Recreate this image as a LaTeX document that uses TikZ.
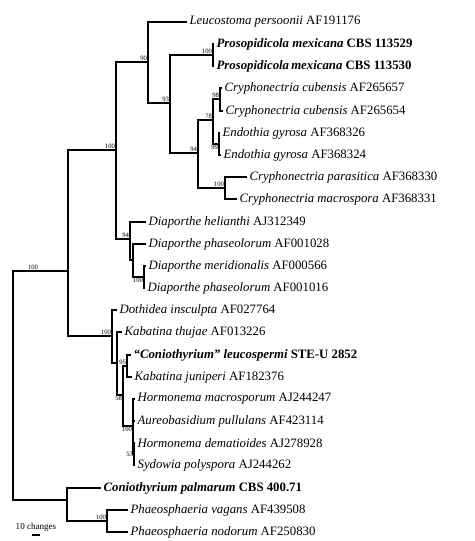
\documentclass[tikz,border=0pt]{standalone}
\usepackage{fontspec}
\setmainfont{Liberation Serif}
\tikzset{branch/.style={line width=1.1pt, line cap=rect}}
\tikzset{taxon/.style={anchor=west, inner xsep=2.5pt, inner ysep=0pt, font=\fontsize{9.6}{11}\selectfont}}
\tikzset{boot/.style={anchor=south east, inner sep=0.6pt, font=\fontsize{5}{6}\selectfont}}
\tikzset{bootlow/.style={boot, anchor=north east}}

\begin{document}
\begin{tikzpicture}[x=0.75pt, y=-0.75pt]
\useasboundingbox (0,0) rectangle (474,541);
% internal nodes
\coordinate (root) at (13,388);
\coordinate (nA) at (68,271);
\coordinate (nB) at (116,150);
\coordinate (nC) at (148,62);
\coordinate (nD) at (170,103);
\coordinate (nE) at (213,55);
\coordinate (nF) at (198,153);
\coordinate (nG) at (213,120);
\coordinate (nH) at (220,99);
\coordinate (nI) at (219,144);
\coordinate (nJ) at (225,188);
\coordinate (nK) at (130,239);
\coordinate (nL) at (133,260);
\coordinate (nM) at (144,277);
\coordinate (nN) at (112,336);
\coordinate (nO) at (117,363);
\coordinate (nP) at (123,395);
\coordinate (nQ) at (127,366);
\coordinate (nR) at (133,426);
\coordinate (nS) at (134,454);
\coordinate (nT) at (67,500);
\coordinate (nU) at (107,521);
% taxa
\node[taxon] (lpers) at (186,22) {\textit{Leucostoma persoonii} AF191176};
\node[taxon] (pmexA) at (213,44) {\textbf{\textit{Prosopidicola mexicana} CBS 113529}};
\node[taxon] (pmexB) at (213,66) {\textbf{\textit{Prosopidicola\,mexicana} CBS 113530}};
\node[taxon] (ccubA) at (221,88) {\textit{Cryphonectria cubensis} AF265657};
\node[taxon] (ccubB) at (222,111) {\textit{Cryphonectria cubensis} AF265654};
\node[taxon] (egyrA) at (219,133) {\textit{Endothia gyrosa} AF368326};
\node[taxon] (egyrB) at (220,155) {\textit{Endothia gyrosa} AF368324};
\node[taxon] (cpara) at (246,177) {\textit{Cryphonectria parasitica} AF368330};
\node[taxon] (cmacr) at (236,199) {\textit{Cryphonectria macrospora} AF368331};
\node[taxon] (dheli) at (145,222) {\textit{Diaporthe helianthi} AJ312349};
\node[taxon] (dphaA) at (145,244) {\textit{Diaporthe phaseolorum} AF001028};
\node[taxon] (dmeri) at (145,266) {\textit{Diaporthe meridionalis} AF000566};
\node[taxon] (dphaB) at (144,288) {\textit{Diaporthe phaseolorum} AF001016};
\node[taxon] (dinsc) at (116,310) {\textit{Dothidea insculpta} AF027764};
\node[taxon] (kthuj) at (121,332) {\textit{Kabatina thujae} AF013226};
\node[taxon] (cleuc) at (130,355) {\textbf{\textit{“Coniothyrium” leucospermi} STE-U 2852}};
\node[taxon] (kjuni) at (131,377) {\textit{Kabatina juniperi} AF182376};
\node[taxon] (hmacr) at (134,399) {\textit{Hormonema macrosporum} AJ244247};
\node[taxon] (apull) at (134,421) {\textit{Aureobasidium pullulans} AF423114};
\node[taxon] (hdema) at (134,443) {\textit{Hormonema dematioides} AJ278928};
\node[taxon] (spoly) at (134,465) {\textit{Sydowia polyspora} AJ244262};
\node[taxon] (cpalm) at (100,488) {\textbf{\textit{Coniothyrium palmarum} CBS 400.71}};
\node[taxon] (pvaga) at (127,510) {\textit{Phaeosphaeria vagans} AF439508};
\node[taxon] (pnodo) at (127,532) {\textit{Phaeosphaeria nodorum} AF250830};
% branches
\draw[branch] (root) |- (nA);
\draw[branch] (root) |- (nT);
\draw[branch] (nA) |- (nB);
\draw[branch] (nA) |- (nN);
\draw[branch] (nB) |- (nC);
\draw[branch] (nB) |- (nK);
\draw[branch] (nC) |- (lpers.west);
\draw[branch] (nC) |- (nD);
\draw[branch] (nD) |- (nE);
\draw[branch] (nD) |- (nF);
\draw[branch] (nE) |- (pmexA.west);
\draw[branch] (nE) |- (pmexB.west);
\draw[branch] (nF) |- (nG);
\draw[branch] (nF) |- (nJ);
\draw[branch] (nG) |- (nH);
\draw[branch] (nG) |- (nI);
\draw[branch] (nH) |- (ccubA.west);
\draw[branch] (nH) |- (ccubB.west);
\draw[branch] (nI) |- (egyrA.west);
\draw[branch] (nI) |- (egyrB.west);
\draw[branch] (nJ) |- (cpara.west);
\draw[branch] (nJ) |- (cmacr.west);
\draw[branch] (nK) |- (dheli.west);
\draw[branch] (nK) |- (nL);
\draw[branch] (nL) |- (dphaA.west);
\draw[branch] (nL) |- (nM);
\draw[branch] (nM) |- (dmeri.west);
\draw[branch] (nM) |- (dphaB.west);
\draw[branch] (nN) |- (dinsc.west);
\draw[branch] (nN) |- (nO);
\draw[branch] (nO) |- (kthuj.west);
\draw[branch] (nO) |- (nP);
\draw[branch] (nP) |- (nQ);
\draw[branch] (nP) |- (nR);
\draw[branch] (nQ) |- (cleuc.west);
\draw[branch] (nQ) |- (kjuni.west);
\draw[branch] (nR) |- (hmacr.west);
\draw[branch] (nR) |- (apull.west);
\draw[branch] (nR) |- (nS);
\draw[branch] (nS) |- (hdema.west);
\draw[branch] (nS) |- (spoly.west);
\draw[branch] (nT) |- (cpalm.west);
\draw[branch] (nT) |- (nU);
\draw[branch] (nU) |- (pvaga.west);
\draw[branch] (nU) |- (pnodo.west);
% support values
\node[boot, anchor=south] (bA) at (33,271) {100};
\node[boot] (bB) at (nB) {100};
\node[boot] (bC) at (nC) {90};
\node[boot] (bD) at (nD) {93};
\node[boot] (bE) at (nE) {100};
\node[boot] (bF) at (nF) {94};
\node[boot] (bG) at (nG) {78};
\node[boot] (bH) at (nH) {98};
\node[bootlow] (bI) at (nI) {99};
\node[boot] (bJ) at (nJ) {100};
\node[boot] (bK) at (nK) {94};
\node[bootlow] (bM) at (nM) {100};
\node[boot] (bN) at (nN) {100};
\node[boot] (bQ) at (nQ) {95};
\node[bootlow] (bP) at (nP) {58};
\node[bootlow] (bR) at (nR) {100};
\node[boot, anchor=east] (bS) at (nS) {53};
\node[boot] (bU) at (nU) {100};
% scale bar
\coordinate (sbl) at (33,535);
\coordinate (sbr) at (39,535);
\draw[branch] (sbl) -- (sbr);
\node[font=\fontsize{6.8}{8}\selectfont, inner sep=0pt] (sbtext) at (36,527) {10 changes};
\end{tikzpicture}
\end{document}
